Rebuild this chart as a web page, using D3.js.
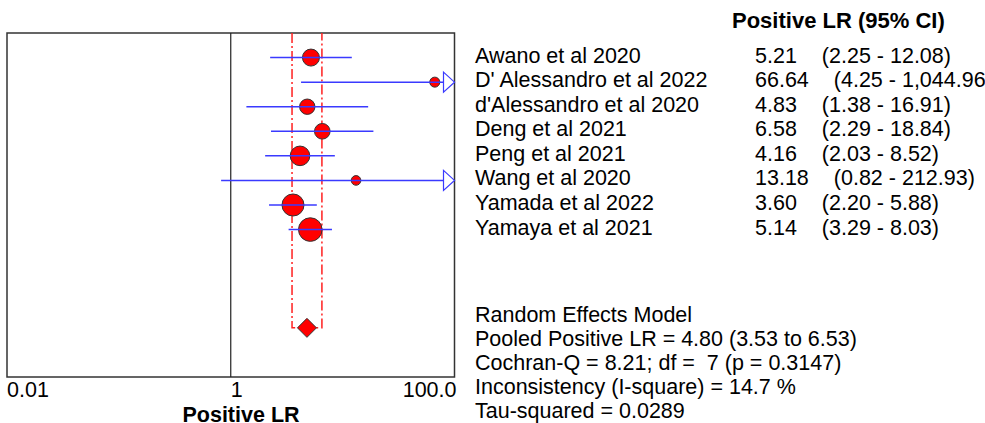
<!DOCTYPE html>
<html>
<head>
<meta charset="utf-8">
<script src="https://cdn.jsdelivr.net/npm/d3@7"></script>
<style>
  body { margin: 0; background: #fff; }
  svg { display: block; font-family: "Liberation Sans", Arial, sans-serif; }
  text { white-space: pre; }
</style>
</head>
<body>
<script>
// Study data
const studies = [
  'Awano et al 2020',
  "D' Alessandro et al 2022",
  "d'Alessandro et al 2020",
  'Deng et al 2021',
  'Peng et al 2021',
  'Wang et al 2020',
  'Yamada et al 2022',
  'Yamaya et al 2021',
];
const lrValues = [5.21, 66.64, 4.83, 6.58, 4.16, 13.18, 3.60, 5.14];
const lrLower = [2.25, 4.25, 1.38, 2.29, 2.03, 0.82, 2.20, 3.29];
const lrUpper = [12.08, 1044.96, 16.91, 18.84, 8.52, 212.93, 5.88, 8.03];
const weights = [12.1, 4.2, 9.9, 10.2, 16.1, 3.9, 20.3, 23.3];

const pooled = { value: 4.80, lower: 3.53, upper: 6.53 };
const tickValues = [0.01, 1, 100];
const tickLabels = ['0.01', '1', '100.0'];
const statsLines = [
  'Random Effects Model',
  'Pooled Positive LR = 4.80 (3.53 to 6.53)',
  'Cochran-Q = 8.21; df =  7 (p = 0.3147)',
  'Inconsistency (I-square) = 14.7 %',
  'Tau-squared = 0.0289',
];

const fullWidth = 985;
const fullHeight = 423;
const fontSize = 21.5;

const svg = d3.select('body')
  .append('svg')
  .attr('width', fullWidth)
  .attr('height', fullHeight);

// Scales
const xScale = d3.scaleLog()
  .domain([0.01, 100])
  .range([7, 454.5]);

const yScale = d3.scaleLinear()
  .domain([0, 14])
  .range([33, 377]);

const rScale = d3.scaleSqrt()
  .domain([0, d3.max(weights)])
  .range([0, 11.8]);

const xMax = xScale.range()[1];
const fmt = d3.format(',.2f');
const rows = studies.map((name, i) => ({
  name, lr: lrValues[i], lo: lrLower[i], hi: lrUpper[i], w: weights[i], row: i + 1,
}));
const diamondRow = 12;

// Plot frame
svg.append('rect')
  .attr('x', xScale.range()[0])
  .attr('y', yScale(0))
  .attr('width', xMax - xScale.range()[0])
  .attr('height', yScale(14) - yScale(0))
  .attr('fill', 'none')
  .attr('stroke', '#333')
  .attr('stroke-width', 1.5);

svg.append('line')
  .attr('x1', xScale(1))
  .attr('x2', xScale(1))
  .attr('y1', yScale(0))
  .attr('y2', yScale(14))
  .attr('stroke', '#222')
  .attr('stroke-width', 1.2);

// Pooled CI reference lines
const refPath = d3.path();
refPath.moveTo(xScale(pooled.lower), yScale(0));
refPath.lineTo(xScale(pooled.lower), yScale(diamondRow));
refPath.lineTo(xScale(pooled.upper), yScale(diamondRow));
refPath.lineTo(xScale(pooled.upper), yScale(0));

svg.append('path')
  .attr('d', refPath.toString())
  .attr('fill', 'none')
  .attr('stroke', '#ff2020')
  .attr('stroke-width', 1.5)
  .attr('stroke-dasharray', '10,3,2,3');

// Study points
svg.selectAll('.pt')
  .data(rows)
  .enter()
  .append('circle')
  .attr('class', 'pt')
  .attr('cx', d => xScale(d.lr))
  .attr('cy', d => yScale(d.row))
  .attr('r', d => rScale(d.w))
  .attr('fill', '#ff0000')
  .attr('stroke', '#333')
  .attr('stroke-width', 1);

// CI lines
svg.selectAll('.ci')
  .data(rows)
  .enter()
  .append('line')
  .attr('class', 'ci')
  .attr('x1', d => xScale(Math.max(d.lo, 0.01)))
  .attr('x2', d => (d.hi > 100 ? xMax - 10 : xScale(d.hi)))
  .attr('y1', d => yScale(d.row))
  .attr('y2', d => yScale(d.row))
  .attr('stroke', '#3a3aff')
  .attr('stroke-width', 1.5);

// Arrows for CIs beyond the axis
svg.selectAll('.arrow')
  .data(rows.filter(d => d.hi > 100))
  .enter()
  .append('path')
  .attr('class', 'arrow')
  .attr('d', (d) => {
    const y = yScale(d.row);
    return `M${xMax - 11},${y - 10}L${xMax},${y}L${xMax - 11},${y + 10}Z`;
  })
  .attr('fill', '#fff')
  .attr('stroke', '#3a3aff')
  .attr('stroke-width', 1.2);

// Pooled diamond
const dx = xScale(pooled.value);
const dy = yScale(diamondRow);
svg.append('path')
  .attr('d', `M${dx - 9.5},${dy}L${dx},${dy - 9.5}L${dx + 9.5},${dy}L${dx},${dy + 9.5}Z`)
  .attr('fill', '#ff0000')
  .attr('stroke', '#333')
  .attr('stroke-width', 1);

// X axis labels
svg.selectAll('.tick-label')
  .data(tickValues)
  .enter()
  .append('text')
  .attr('class', 'tick-label')
  .attr('x', (d, i) => (i === tickValues.length - 1 ? xScale(d) + 2 : xScale(d)))
  .attr('y', 397)
  .attr('text-anchor', (d, i) => (i === tickValues.length - 1 ? 'end' : 'start'))
  .style('font-size', `${fontSize}px`)
  .text((d, i) => tickLabels[i]);

svg.append('text')
  .attr('x', 241)
  .attr('y', 422)
  .attr('text-anchor', 'middle')
  .style('font-size', `${fontSize}px`)
  .style('font-weight', 'bold')
  .text('Positive LR');

// Right-hand table
svg.append('text')
  .attr('x', 732)
  .attr('y', 27.5)
  .style('font-size', '22px')
  .style('font-weight', 'bold')
  .text('Positive LR (95% CI)');

const table = svg.selectAll('.row')
  .data(rows)
  .enter()
  .append('g')
  .attr('class', 'row')
  .attr('transform', d => `translate(0, ${yScale(d.row) + 5})`)
  .style('font-size', `${fontSize}px`);

table.append('text')
  .attr('x', 475)
  .text(d => d.name);

table.append('text')
  .attr('class', 'val')
  .attr('x', 755)
  .text(d => d.lr.toFixed(2));

table.append('text')
  .attr('x', function () {
    const val = d3.select(this.parentNode).select('.val').node();
    return 755 + val.getComputedTextLength() + 25;
  })
  .text(d => `(${fmt(d.lo)} - ${fmt(d.hi)})`);

// Summary statistics
svg.selectAll('.stat')
  .data(statsLines)
  .enter()
  .append('text')
  .attr('class', 'stat')
  .attr('x', 475)
  .attr('y', (d, i) => 321.5 + i * 24.1)
  .style('font-size', `${fontSize}px`)
  .text(d => d);
</script>
</body>
</html>
